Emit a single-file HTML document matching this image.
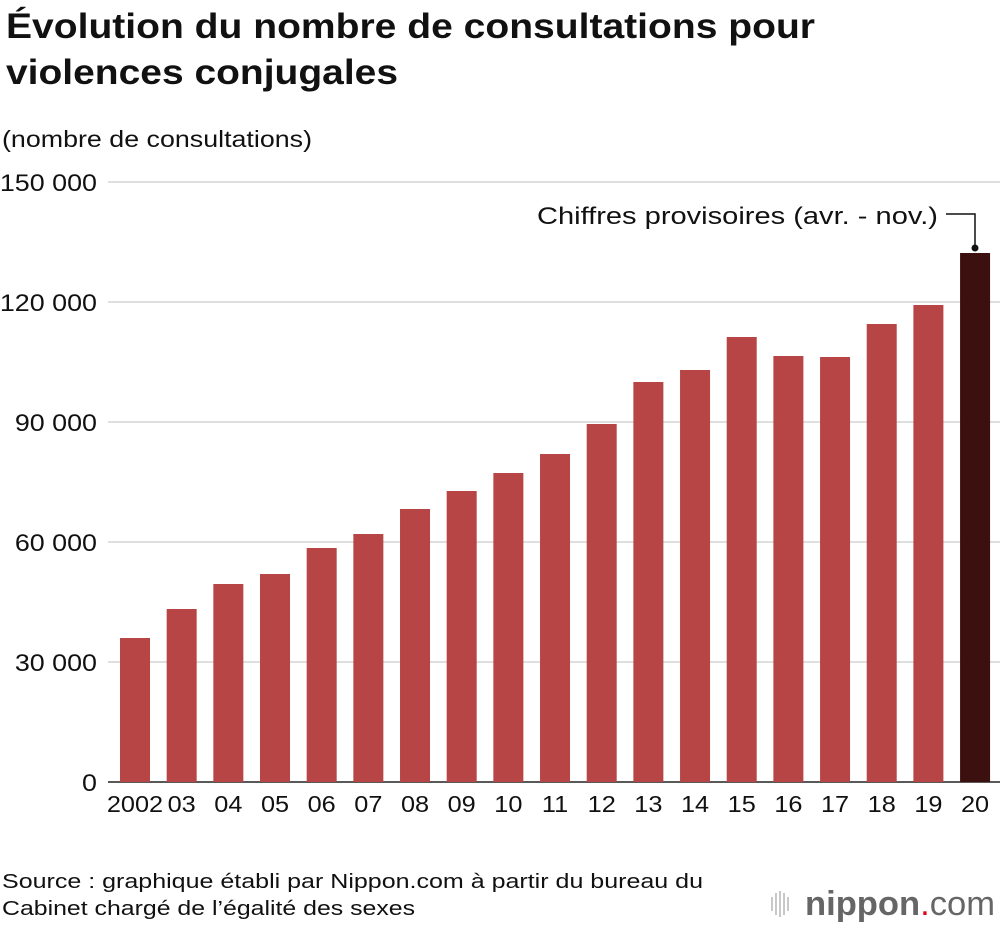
<!DOCTYPE html>
<html><head><meta charset="utf-8"><style>
body{margin:0;background:#fff;width:1000px;height:926px;overflow:hidden;font-family:"Liberation Sans",sans-serif}
</style></head><body>
<svg width="1000" height="926" xmlns="http://www.w3.org/2000/svg" font-family="Liberation Sans, sans-serif">
<text x="6" y="38" font-size="35" font-weight="bold" fill="#111" textLength="809" lengthAdjust="spacingAndGlyphs">Évolution du nombre de consultations pour</text>
<text x="6" y="84" font-size="35" font-weight="bold" fill="#111" textLength="392" lengthAdjust="spacingAndGlyphs">violences conjugales</text>
<text x="2" y="147" font-size="23" fill="#111" textLength="310" lengthAdjust="spacingAndGlyphs">(nombre de consultations)</text>
<g id="grid"></g><g id="bars"></g><g id="xl"></g>
<text x="537" y="224" font-size="24" fill="#111" textLength="401" lengthAdjust="spacingAndGlyphs">Chiffres provisoires (avr. - nov.)</text>
<polyline points="946,214 975,214 975,248" fill="none" stroke="#111" stroke-width="1.5"/>
<circle cx="975" cy="248" r="3.5" fill="#111"/>
<text x="2" y="888" font-size="20" fill="#111" textLength="701" lengthAdjust="spacingAndGlyphs">Source : graphique établi par Nippon.com à partir du bureau du</text>
<text x="2" y="915" font-size="20" fill="#111" textLength="413" lengthAdjust="spacingAndGlyphs">Cabinet chargé de l’égalité des sexes</text>
<g>
<g stroke="#bbb" stroke-width="1.6"><line x1="772" y1="897" x2="772" y2="911"/><line x1="776" y1="893" x2="776" y2="915"/><line x1="780" y1="891" x2="780" y2="917"/><line x1="784" y1="893" x2="784" y2="915"/><line x1="788" y1="897" x2="788" y2="911"/></g>
<text x="805" y="915" font-size="34" fill="#666" textLength="190" lengthAdjust="spacingAndGlyphs"><tspan font-weight="bold">nippon</tspan><tspan fill="#e60012">.</tspan><tspan>com</tspan></text>
</g>
</svg>
<script>
const categories=["2002","03","04","05","06","07","08","09","10","11","12","13","14","15","16","17","18","19","20"];
const values=[36000,43250,49500,52000,58500,62000,68250,72750,77250,82000,89500,100000,103000,111250,106500,106250,114500,119250,132250];
const ticks=[0,30000,60000,90000,120000,150000];
const tickLabels=["0","30 000","60 000","90 000","120 000","150 000"];
const NS="http://www.w3.org/2000/svg";
const y=v=>782-v/150000*600;
const x=i=>120+i*46.67;
const g=document.getElementById('grid'),b=document.getElementById('bars'),xl=document.getElementById('xl');
ticks.forEach((t,i)=>{
 const l=document.createElementNS(NS,'line');
 l.setAttribute('x1',108);l.setAttribute('x2',1000);l.setAttribute('y1',y(t));l.setAttribute('y2',y(t));
 l.setAttribute('stroke',i==0?'#222':'#ccc');l.setAttribute('stroke-width',i==0?1.5:1.2);
 
 
 g.appendChild(l);
 const tx=document.createElementNS(NS,'text');
 tx.setAttribute('x',97);tx.setAttribute('y',y(t)+9);tx.setAttribute('text-anchor','end');tx.setAttribute('font-size',24);tx.setAttribute('fill','#111');
 tx.setAttribute('transform','translate(97,0) scale(1.12,1) translate(-97,0)');
 tx.textContent=tickLabels[i];
 
 
 g.appendChild(tx);
});
values.forEach((v,i)=>{
 const r=document.createElementNS(NS,'rect');
 r.setAttribute('x',x(i));r.setAttribute('width',30);r.setAttribute('y',y(v));r.setAttribute('height',782-y(v));
 r.setAttribute('fill',i==values.length-1?'#3d1010':'#b84545');
 
 
 b.appendChild(r);
 const tx=document.createElementNS(NS,'text');
 const cx=x(i)+15;
 tx.setAttribute('x',cx);tx.setAttribute('y',812);tx.setAttribute('text-anchor','middle');tx.setAttribute('font-size',23);tx.setAttribute('fill','#111');
 tx.setAttribute('transform','translate('+cx+',0) scale(1.1,1) translate('+(-cx)+',0)');
 tx.textContent=categories[i];
 
 
 xl.appendChild(tx);
});
</script>
</body></html>
